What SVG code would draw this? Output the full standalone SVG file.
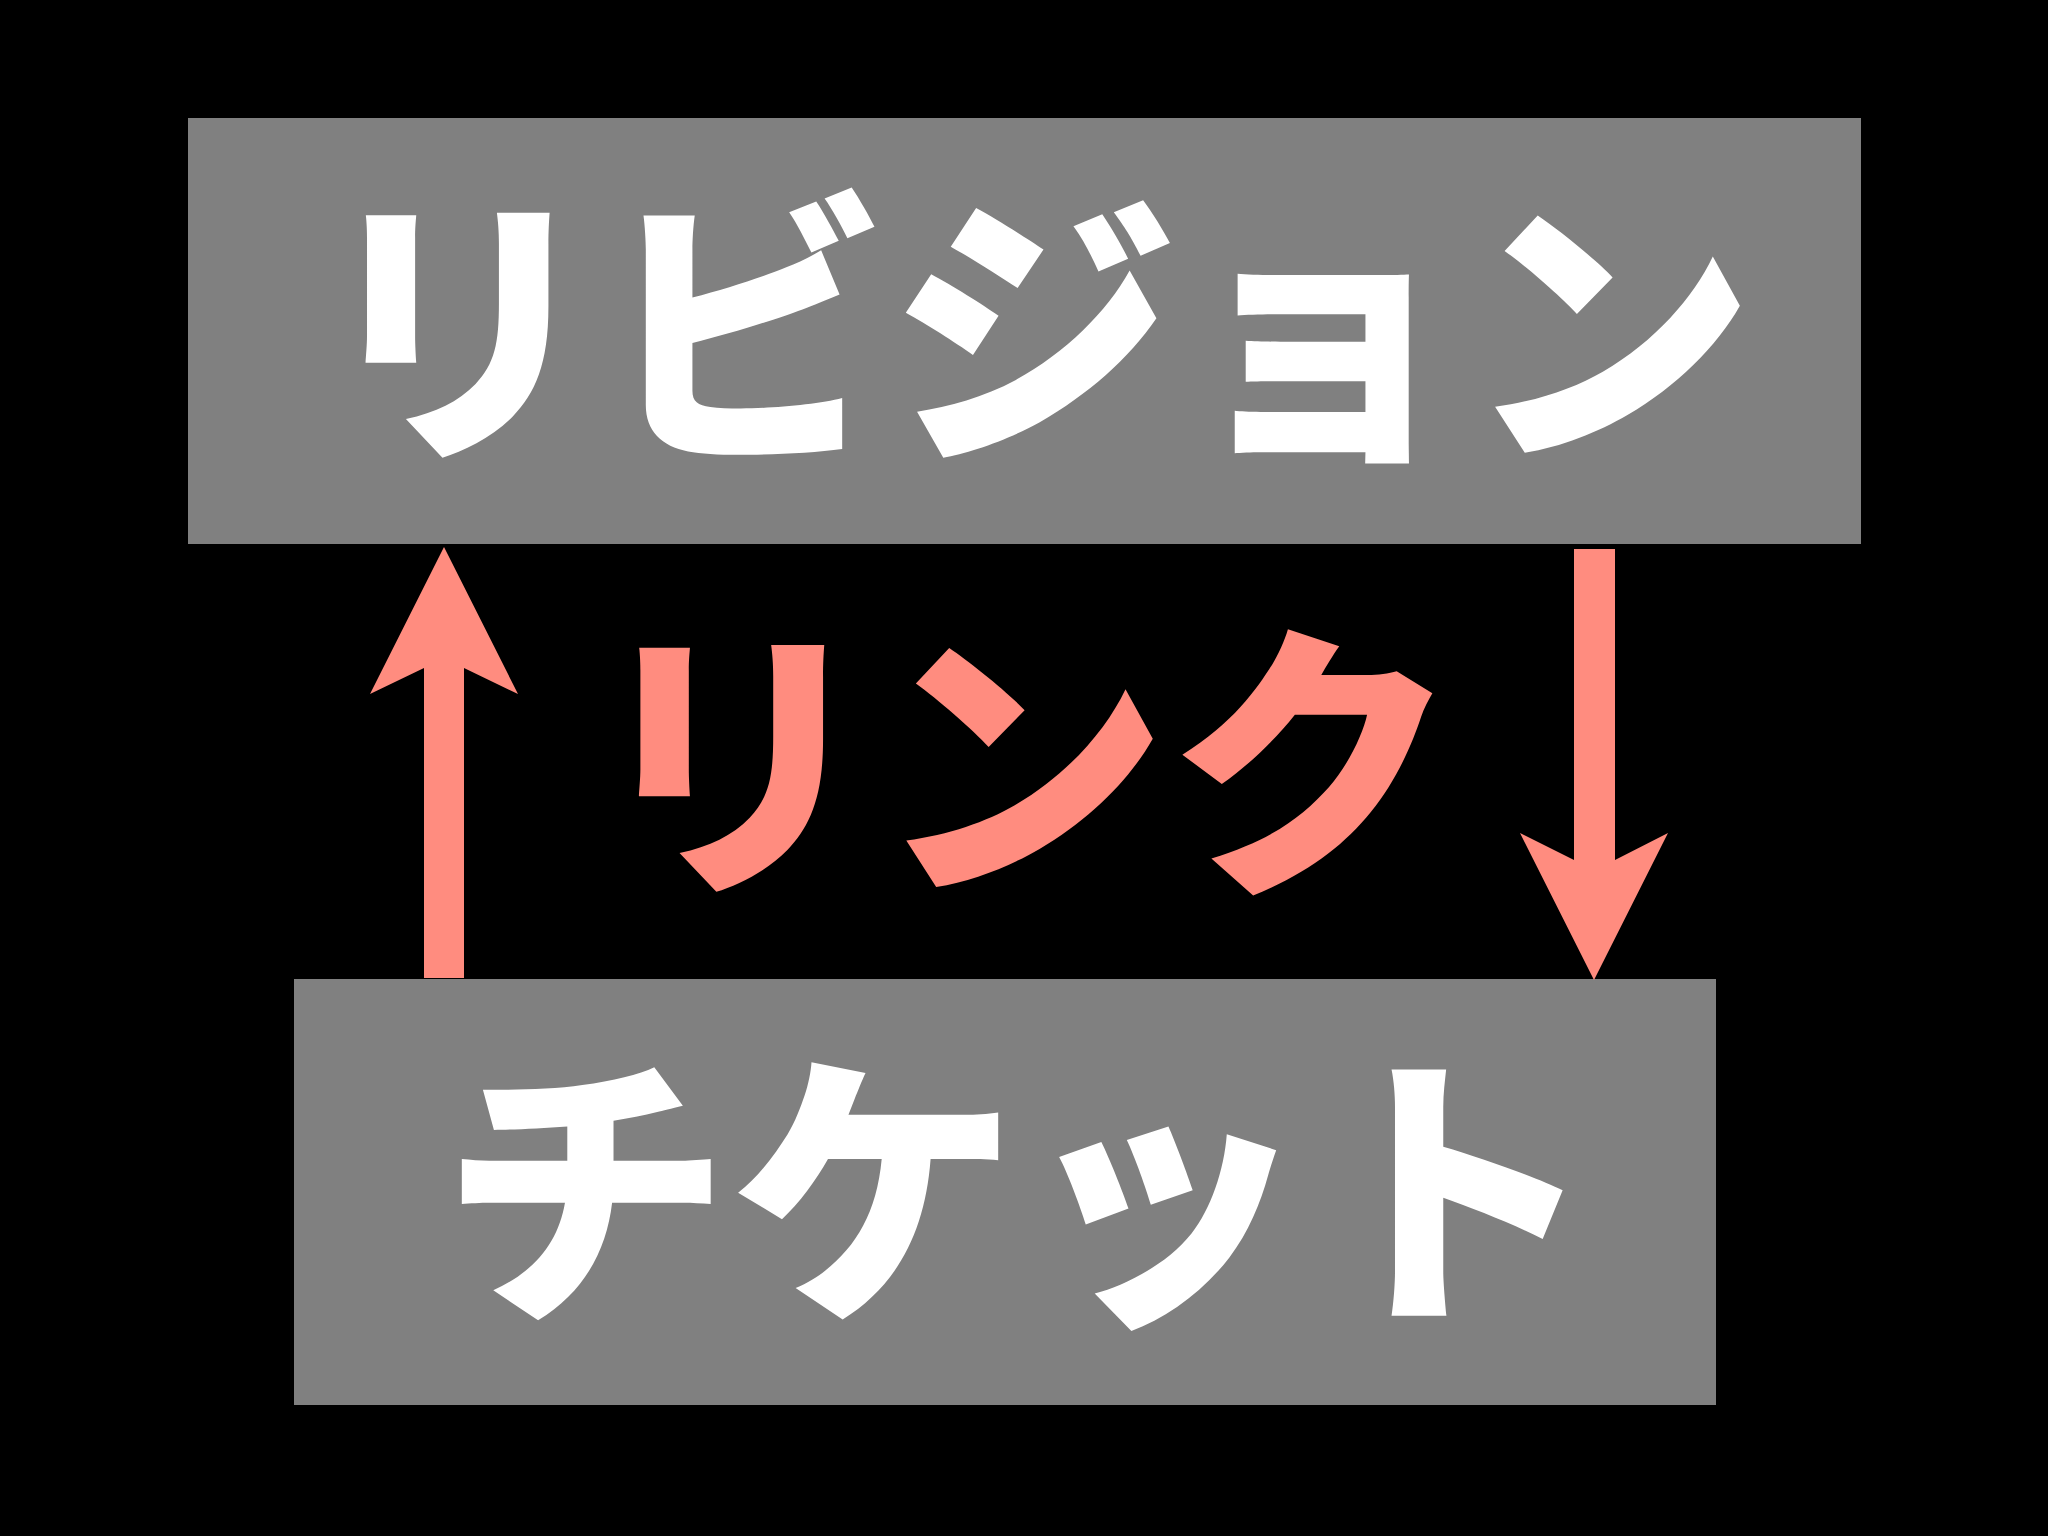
<svg xmlns="http://www.w3.org/2000/svg" width="2048" height="1536" viewBox="0 0 2048 1536">
<style>
.box{fill:#808080}
.lbl{font-family:"Noto Sans CJK JP","Noto Sans CJK SC",sans-serif;font-weight:900;fill:#ffffff;text-anchor:middle}
.link{font-family:"Noto Sans CJK JP","Noto Sans CJK SC",sans-serif;font-weight:900;fill:#ff8c7f;text-anchor:middle}
.arrow{fill:#ff8c7f}
</style>
<rect width="2048" height="1536" fill="#000000"/>
<g id="revision">
<rect class="box" x="188" y="118" width="1673" height="426"/>
<text class="lbl" x="1034" y="439" font-size="288">リビジョン</text>
</g>
<g id="ticket">
<rect class="box" x="294" y="979" width="1422" height="426" fill="#807f81"/>
<text class="lbl" x="1019" y="1301" font-size="289">チケット</text>
</g>
<g id="connectors">
<polygon class="arrow" points="444,547 518,694 464,668 464,978 424,978 424,668 370,694"/>
<polygon class="arrow" points="1574,549 1615,549 1615,860 1668,833 1594,980 1520,833 1574,860"/>
<text class="link" x="1022" y="873" font-size="290">リンク</text>
</g>
</svg>
